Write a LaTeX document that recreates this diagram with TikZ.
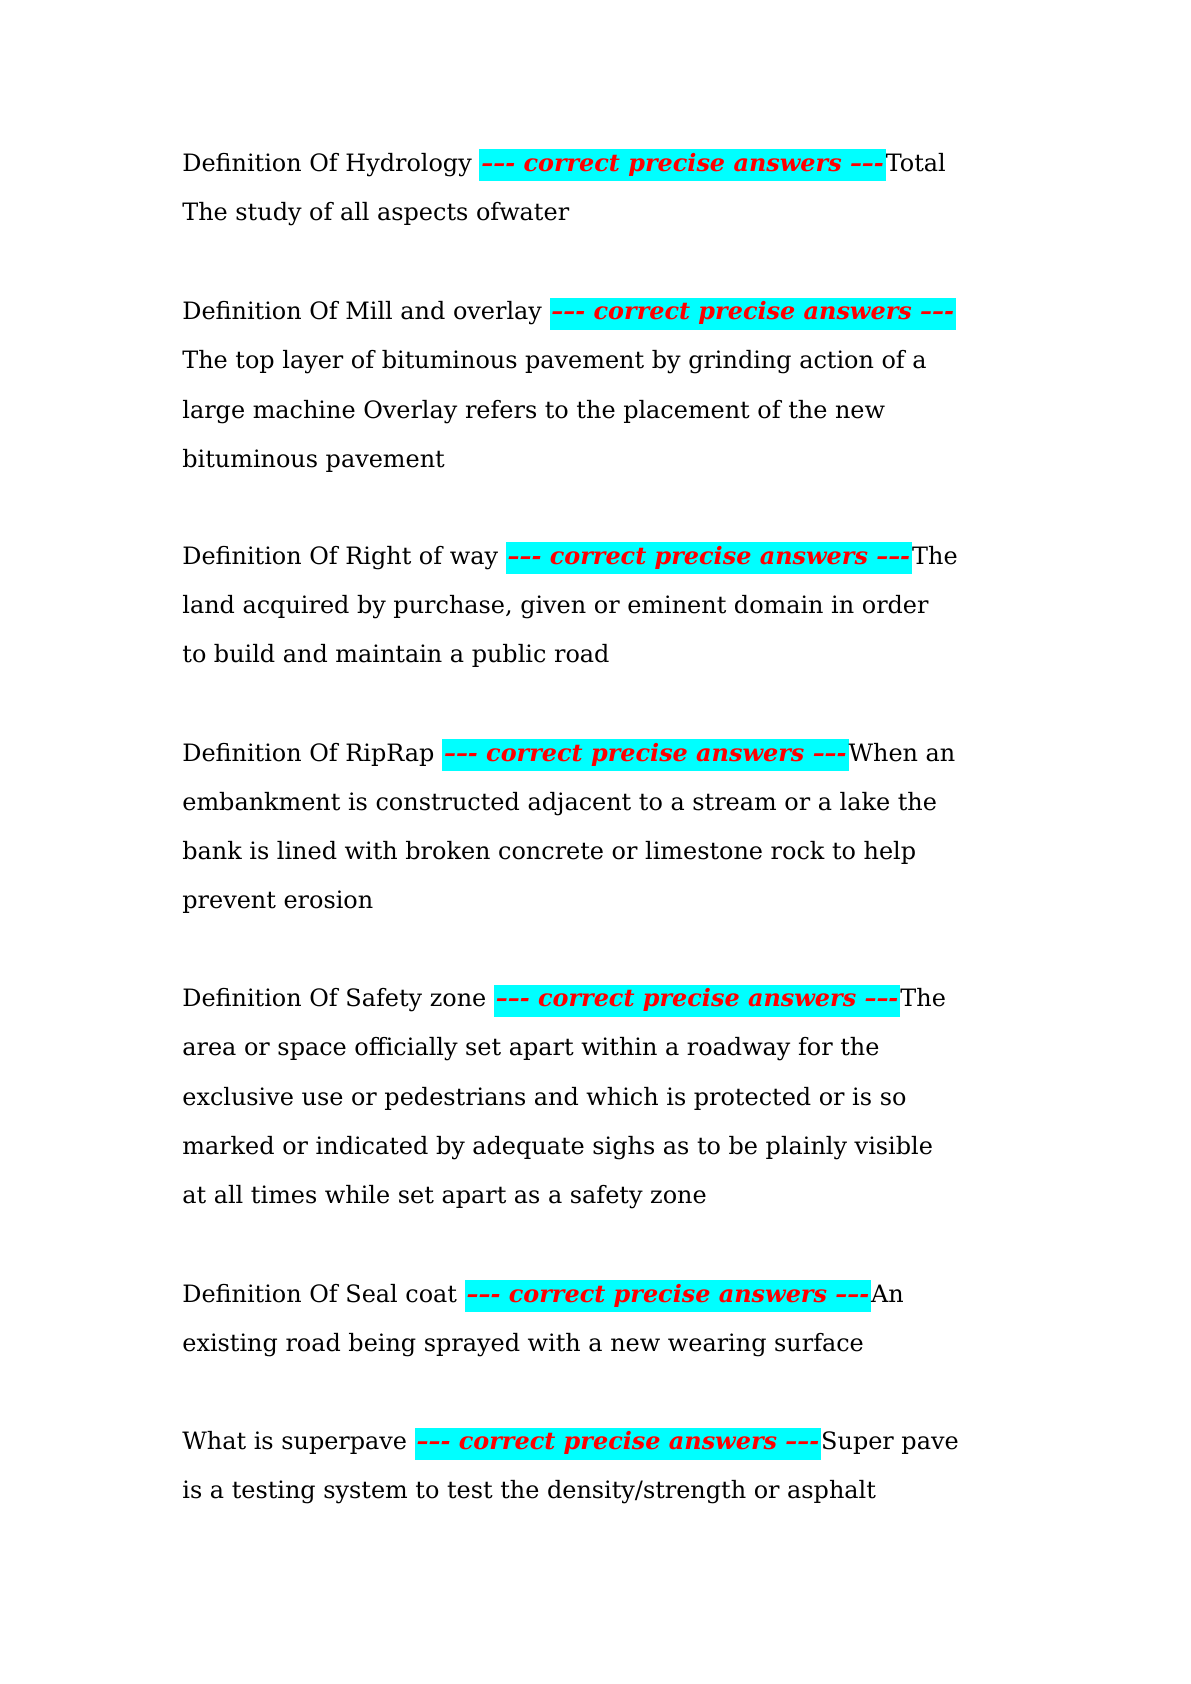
\documentclass[tikz,border=0pt]{standalone}
\usepackage{fontspec}
\setmainfont{DejaVu Serif}
\usepackage{xcolor}
\definecolor{hilite}{RGB}{0,255,255}
\newcommand{\answer}{{\setlength{\fboxsep}{1pt}\colorbox{hilite}{\strut\color{red}\bfseries\itshape --{}--{}- correct precise answers --{}--{}-}}}
\begin{document}
\begin{tikzpicture}[x=1bp, y=-1bp,
    line/.style={anchor=base west, inner sep=0pt, font=\fontsize{12}{14}\selectfont}
]
    \useasboundingbox (0,0) rectangle (595.5,842);
    \def\ls{24.6}
    % Hydrology
    \node[line] (hyd1) at (91,85.5) {Definition Of Hydrology \answer Total};
    \node[line] (hyd2) at (91,85.5+\ls) {The study of all aspects ofwater};
    % Mill and overlay
    \node[line] (mill1) at (91,159.8) {Definition Of Mill and overlay \answer};
    \node[line] (mill2) at (91,159.8+\ls) {The top layer of bituminous pavement by grinding action of a};
    \node[line] (mill3) at (91,159.8+2*\ls) {large machine Overlay refers to the placement of the new};
    \node[line] (mill4) at (91,159.8+3*\ls) {bituminous pavement};
    % Right of way
    \node[line] (row1) at (91,282) {Definition Of Right of way \answer The};
    \node[line] (row2) at (91,282+\ls) {land acquired by purchase, given or eminent domain in order};
    \node[line] (row3) at (91,282+2*\ls) {to build and maintain a public road};
    % RipRap
    \node[line] (rip1) at (91,380.5) {Definition Of RipRap \answer When an};
    \node[line] (rip2) at (91,380.5+\ls) {embankment is constructed adjacent to a stream or a lake the};
    \node[line] (rip3) at (91,380.5+2*\ls) {bank is lined with broken concrete or limestone rock to help};
    \node[line] (rip4) at (91,380.5+3*\ls) {prevent erosion};
    % Safety zone
    \node[line] (safe1) at (91,503.3) {Definition Of Safety zone \answer The};
    \node[line] (safe2) at (91,503.3+\ls) {area or space officially set apart within a roadway for the};
    \node[line] (safe3) at (91,503.3+2*\ls) {exclusive use or pedestrians and which is protected or is so};
    \node[line] (safe4) at (91,503.3+3*\ls) {marked or indicated by adequate sighs as to be plainly visible};
    \node[line] (safe5) at (91,503.3+4*\ls) {at all times while set apart as a safety zone};
    % Seal coat
    \node[line] (seal1) at (91,651) {Definition Of Seal coat \answer An};
    \node[line] (seal2) at (91,651+\ls) {existing road being sprayed with a new wearing surface};
    % Superpave
    \node[line] (sup1) at (91,724.6) {What is superpave \answer Super pave};
    \node[line] (sup2) at (91,724.6+\ls) {is a testing system to test the density/strength or asphalt};
\end{tikzpicture}
\end{document}
